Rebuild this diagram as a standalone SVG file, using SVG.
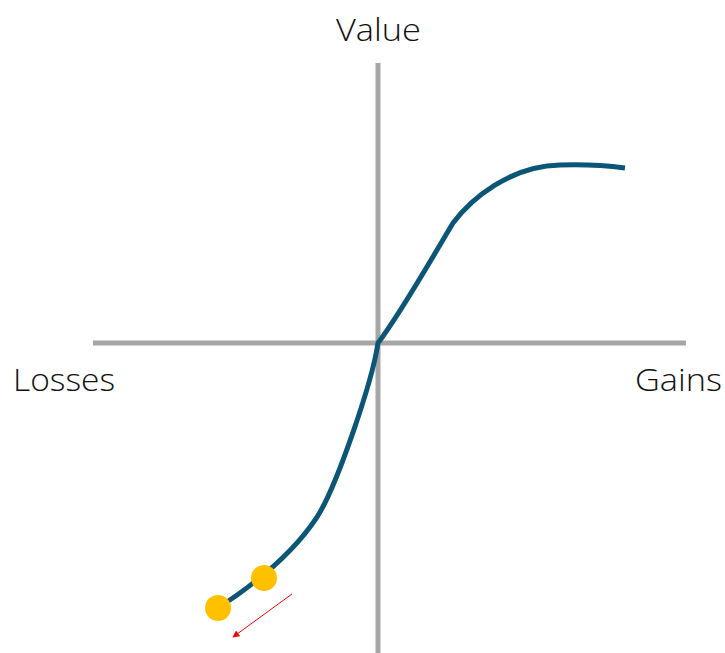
<svg xmlns="http://www.w3.org/2000/svg" width="725" height="653" viewBox="0 0 725 653">
<style>
.axis{stroke:#a6a6a6;stroke-width:5;fill:none}
.lbl{font-family:"Open Sans","Liberation Sans",sans-serif;font-size:32px;font-weight:300;fill:#111}
.curve{stroke:#0b5577;stroke-width:5;fill:none;stroke-linecap:butt;stroke-linejoin:round}
.dot{fill:#ffc000}
</style>
<defs>
<marker id="ah" viewBox="0 0 10 10" refX="9" refY="5" markerWidth="7" markerHeight="7" orient="auto" markerUnits="userSpaceOnUse"><path d="M0,0 L10,5 L0,10 z" fill="#ff0000"/></marker>
</defs>
<rect width="725" height="653" fill="#fff"/>
<g id="axes">
<line class="axis" x1="378" y1="63" x2="378" y2="653"/>
<line class="axis" x1="93" y1="343" x2="686" y2="343"/>
</g>
<g id="labels">
<text class="lbl" x="336" y="41" textLength="85" lengthAdjust="spacingAndGlyphs">Value</text>
<text class="lbl" x="13" y="391" textLength="102" lengthAdjust="spacingAndGlyphs">Losses</text>
<text class="lbl" x="635" y="391" textLength="87" lengthAdjust="spacingAndGlyphs">Gains</text>
</g>
<g id="connectors">
<path class="curve" d="M218,608 C248,588.5 290,558 317,517 C336,488 372,383 378,343 C400,314 425,270 453,223 C471,199 510,166 560,165 C590,164 610,166 625,168"/>
<line x1="292" y1="594" x2="233" y2="637" stroke="#ff0000" stroke-width="1" marker-end="url(#ah)"/>
</g>
<g id="dot1"><circle class="dot" cx="218" cy="608" r="13"/></g>
<g id="dot2"><circle class="dot" cx="264" cy="578" r="13"/></g>
</svg>
